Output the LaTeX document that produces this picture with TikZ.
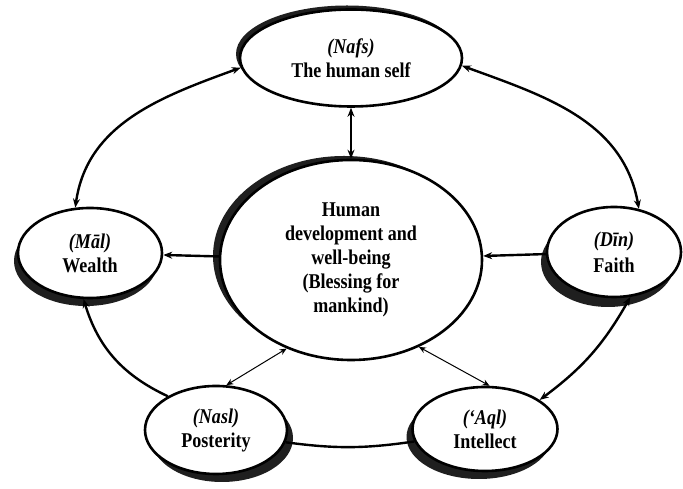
\documentclass[tikz,border=0pt]{standalone}
\usepackage{fontspec}
\setmainfont{Liberation Serif}[FakeStretch=0.86]
\usetikzlibrary{shapes.geometric,arrows.meta,shadows}
\begin{document}
\begin{tikzpicture}[x=1pt,y=1pt,
  el/.style={ellipse, draw=black, line width=2.6pt, fill=white, inner sep=0pt,
    align=center, font=\fontsize{21}{24}\selectfont\bfseries},
  shd/.style 2 args={drop shadow={shadow xshift=#1, shadow yshift=#2, opacity=1, fill=black!88}},
  tip/.tip={Stealth[length=9pt,width=7pt]},
  conn/.style={line width=2.4pt},
  thinconn/.style={line width=1pt, {Stealth[length=7pt,width=6pt]}-{Stealth[length=7pt,width=6pt]}}
]
\useasboundingbox (0,0) rectangle (683,489);

\node[el, shd={-4pt}{4pt}, minimum width=222pt, minimum height=97pt] (nafs) at (351,431)
  {\textit{(Nafs)}\\The human self};
\node[el, shd={-7pt}{4pt}, minimum width=262pt, minimum height=200pt] (center) at (351,229)
  {Human\\development and\\well-being\\(Blessing for\\mankind)};
\node[el, shd={-4pt}{-8pt}, minimum width=144pt, minimum height=90pt] (mal) at (90,236)
  {\textit{(Māl)}\\Wealth};
\node[el, shd={-6pt}{-10pt}, minimum width=134pt, minimum height=90pt] (din) at (614,237)
  {\textit{(Dīn)}\\[2pt]Faith};
\node[el, shd={6pt}{-8pt}, minimum width=142pt, minimum height=88pt] (nasl) at (216,59)
  {\textit{(Nasl)}\\Posterity};
\node[el, shd={-6pt}{-8pt}, minimum width=145pt, minimum height=84pt] (aql) at (485,60)
  {\textit{(‘Aql)}\\Intellect};

\draw[conn, tip-tip] (nafs.south) -- (center.north);
\draw[conn, -tip] (center) -- (mal);
\draw[conn, -tip] (din) -- (center);
\draw[thinconn] (center.234) -- (nasl.77);
\draw[thinconn] (center.308) -- (aql.84);
\draw[conn] (nasl.350) to[bend right=8] (aql.190);
\draw[conn, -tip] (nasl.145) to[bend left=24] (mal.262);
\draw[conn, tip-tip] (mal.108) to[out=82, in=200] (nafs.185);
\draw[conn, tip-tip] (nafs.356) to[out=-20, in=100] (din.60);
\draw[conn, tip-tip] (din.290) to[bend left=12] (aql.28);
\end{tikzpicture}
\end{document}
